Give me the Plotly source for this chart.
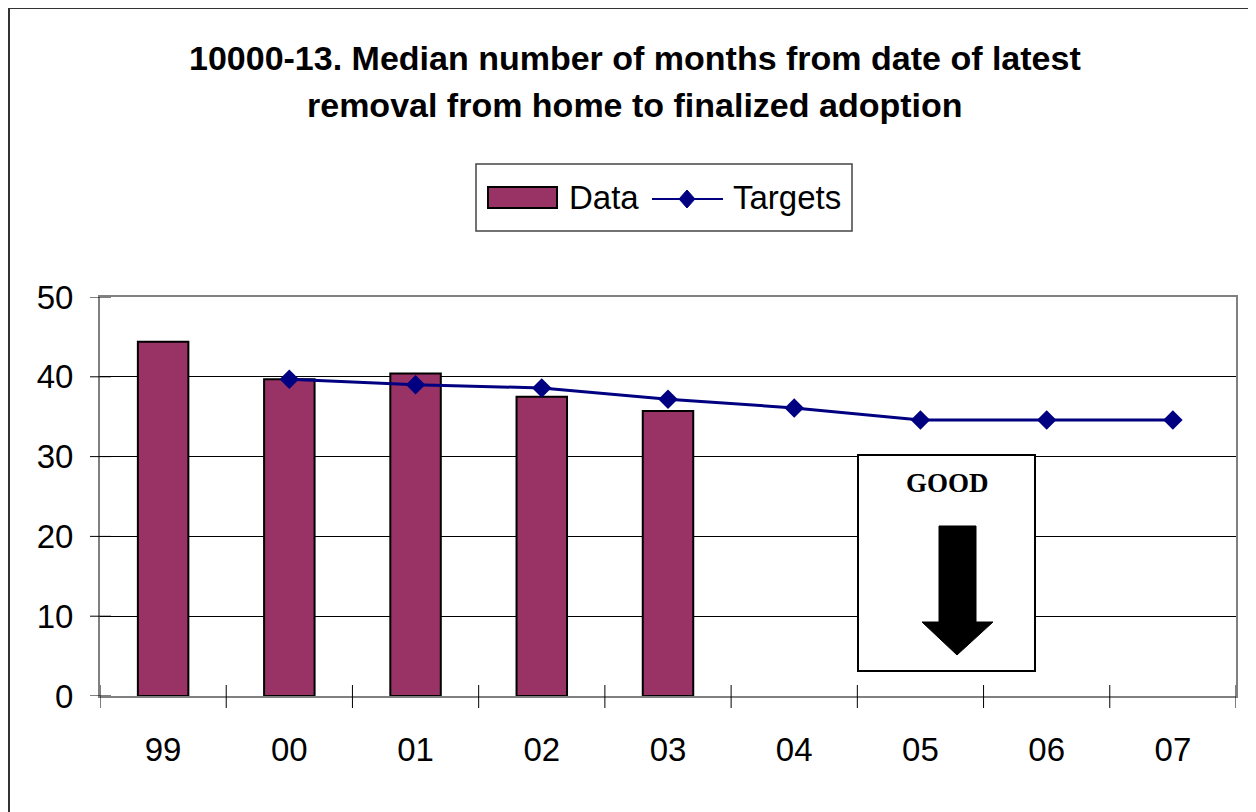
import plotly.graph_objects as go

# categories and values
years = ["99", "00", "01", "02", "03", "04", "05", "06", "07"]
data_years = ["99", "00", "01", "02", "03"]
data_values = [44.4, 39.7, 40.4, 37.5, 35.7]
target_years = ["00", "01", "02", "03", "04", "05", "06", "07"]
target_values = [39.7, 39.0, 38.6, 37.2, 36.1, 34.6, 34.6, 34.6]
y_ticks = [0, 10, 20, 30, 40, 50]

BAR = "#993366"
NAVY = "#000080"
FONT = "Arial, Liberation Sans, sans-serif"

W, H = 1256, 812
OFF = 8  # page margin around the plot div
L, R, T, B = 92, 28, 289, 124


def px(x):
    # screen pixel -> paper x
    return (x - OFF - L) / (W - L - R)


def py(y):
    # screen pixel -> paper y
    return (H - B - (y - OFF)) / (H - T - B)


def poly(pts):
    return "M " + " L ".join(f"{px(x):.5f},{py(y):.5f}" for x, y in pts) + " Z"


fig = go.Figure()

fig.add_trace(go.Bar(
    x=data_years, y=data_values, name="Data", width=0.4,
    marker=dict(color=BAR, line=dict(color="black", width=2)),
))
fig.add_trace(go.Scatter(
    x=target_years, y=target_values, name="Targets", mode="lines+markers",
    line=dict(color=NAVY, width=3),
    marker=dict(symbol="diamond", size=15, color=NAVY),
))

shapes = []
# cross ticks on the category axis (at boundaries)
for i in range(len(years) + 1):
    shapes.append(dict(type="line", xref="x", yref="paper",
                       x0=i - 0.5, x1=i - 0.5, y0=py(708), y1=py(685),
                       line=dict(color="black", width=1)))
# cross ticks on the value axis
for v in y_ticks:
    shapes.append(dict(type="line", xref="paper", yref="y",
                       x0=px(90), x1=px(111), y0=v, y1=v,
                       line=dict(color="black", width=1)))

# outer chart border (cropped on the right and bottom)
shapes.append(dict(type="line", xref="paper", yref="paper",
                   x0=px(9), x1=px(1270), y0=py(8), y1=py(8),
                   line=dict(color="#333333", width=2)))
shapes.append(dict(type="line", xref="paper", yref="paper",
                   x0=px(9), x1=px(9), y0=py(8), y1=py(830),
                   line=dict(color="#333333", width=2)))

# legend box
shapes.append(dict(type="rect", xref="paper", yref="paper",
                   x0=px(476), x1=px(852), y0=py(231), y1=py(164),
                   line=dict(color="#444444", width=1.5), fillcolor="white"))
shapes.append(dict(type="rect", xref="paper", yref="paper",
                   x0=px(488), x1=px(557), y0=py(208), y1=py(187),
                   line=dict(color="black", width=2), fillcolor=BAR))
shapes.append(dict(type="line", xref="paper", yref="paper",
                   x0=px(652), x1=px(723), y0=py(199), y1=py(199),
                   line=dict(color=NAVY, width=2)))
shapes.append(dict(type="path", xref="paper", yref="paper",
                   path=poly([(687, 190), (695, 199), (687, 208), (679, 199)]),
                   line=dict(color=NAVY, width=1), fillcolor=NAVY))

# GOOD box with arrow
shapes.append(dict(type="rect", xref="paper", yref="paper",
                   x0=px(858), x1=px(1035), y0=py(671), y1=py(455),
                   line=dict(color="black", width=2), fillcolor="white"))
shapes.append(dict(type="path", xref="paper", yref="paper",
                   path=poly([(939, 526), (976, 526), (976, 622), (993, 622),
                              (957, 655), (922, 622), (939, 622)]),
                   line=dict(color="black", width=1), fillcolor="black"))

annotations = [
    dict(text="<b>10000-13. Median number of months from date of latest</b>",
         x=px(635), y=py(58), xref="paper", yref="paper", showarrow=False,
         xanchor="center", yanchor="middle",
         font=dict(family=FONT, size=34, color="black")),
    dict(text="<b>removal from home to finalized adoption</b>",
         x=px(635), y=py(105), xref="paper", yref="paper", showarrow=False,
         xanchor="center", yanchor="middle",
         font=dict(family=FONT, size=34, color="black")),
    dict(text="Data", x=px(567), y=py(197), xref="paper", yref="paper",
         showarrow=False, xanchor="left", yanchor="middle",
         font=dict(family=FONT, size=33, color="black")),
    dict(text="Targets", x=px(731), y=py(197), xref="paper", yref="paper",
         showarrow=False, xanchor="left", yanchor="middle",
         font=dict(family=FONT, size=33, color="black")),
    dict(text="<b>GOOD</b>", x=px(947), y=py(483), xref="paper", yref="paper",
         showarrow=False, xanchor="center", yanchor="middle",
         font=dict(family="Liberation Serif, Times New Roman, serif", size=27,
                   color="black")),
]

fig.update_layout(
    width=W, height=H,
    margin=dict(l=L, r=R, t=T, b=B),
    paper_bgcolor="white", plot_bgcolor="white",
    showlegend=False,
    shapes=shapes,
    annotations=annotations,
    xaxis=dict(type="category", categoryorder="array", categoryarray=years,
               range=[-0.5, len(years) - 0.5],
               showline=True, mirror=True, linecolor="#808080", linewidth=2,
               showgrid=False, ticks="", ticklabelstandoff=23,
               tickfont=dict(family=FONT, size=33, color="black")),
    yaxis=dict(range=[0, 50], tickvals=y_ticks,
               showline=True, mirror=True, linecolor="#808080", linewidth=2,
               showgrid=True, gridcolor="black", gridwidth=1,
               zeroline=False, ticks="", ticklabelstandoff=18,
               tickfont=dict(family=FONT, size=33, color="black")),
)

fig.write_html("out.html")
